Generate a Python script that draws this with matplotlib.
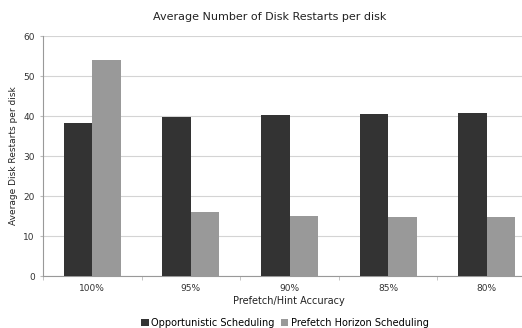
import matplotlib
matplotlib.use("Agg")
import matplotlib.pyplot as plt
import numpy as np

categories = ["100%", "95%", "90%", "85%", "80%"]
opportunistic = [38.2, 39.7, 40.2, 40.5, 40.8]
prefetch_horizon = [54.0, 16.1, 15.0, 14.8, 14.8]
series_names = ["Opportunistic Scheduling", "Prefetch Horizon Scheduling"]
colors = ["#333333", "#999999"]

W, H = 522, 328
fig = plt.figure(figsize=(W / 100, H / 100), dpi=100)
plt.rcParams["font.family"] = "DejaVu Sans"

left, right, top, bottom = 43, 536, 36, 276
ax = fig.add_axes([left / W, (H - bottom) / H, (right - left) / W, (bottom - top) / H])

x = np.arange(len(categories))
bw = 0.29
b1 = ax.bar(x - bw / 2, opportunistic, bw, color=colors[0], label=series_names[0], zorder=3)
b2 = ax.bar(x + bw / 2, prefetch_horizon, bw, color=colors[1], label=series_names[1], zorder=3)

ax.set_xlim(-0.5, len(categories) - 0.5)
ax.set_ylim(0, 60)
ax.set_yticks(range(0, 61, 10))
ax.yaxis.grid(True, color="#d4d4d4", linewidth=0.8, zorder=0)
ax.set_xticks(x)
ax.set_xticklabels(categories)
ax.set_xticks(np.arange(-0.5, len(categories), 1.0), minor=True)
ax.tick_params(axis="x", which="major", length=0, pad=6, labelsize=6.5, labelcolor="#333333")
ax.tick_params(axis="x", which="minor", length=3, color="#bbbbbb", direction="out")
ax.tick_params(axis="y", length=2, color="#bbbbbb", labelsize=6.5, pad=4, labelcolor="#333333")

for s in ["top", "right"]:
    ax.spines[s].set_visible(False)
for s in ["left", "bottom"]:
    ax.spines[s].set_color("#999999")
    ax.spines[s].set_linewidth(0.8)

fig.text(270 / W, 1 - 17 / H, "Average Number of Disk Restarts per disk",
         ha="center", va="center", fontsize=8, color="#222222")
fig.text(14 / W, 1 - 156 / H, "Average Disk Restarts per disk", rotation=90,
         ha="center", va="center", fontsize=6.5, color="#222222")
fig.text(289 / W, 1 - 301 / H, "Prefetch/Hint Accuracy",
         ha="center", va="center", fontsize=7, color="#222222")

fig.legend(handles=[b1, b2], labels=series_names, loc="center",
           bbox_to_anchor=(285 / W, 1 - 323 / H), ncol=2, frameon=False,
           fontsize=7, handlelength=0.8, handleheight=0.8, handletextpad=0.3,
           columnspacing=0.6, borderaxespad=0, borderpad=0)

fig.savefig("out.png", dpi=100)
